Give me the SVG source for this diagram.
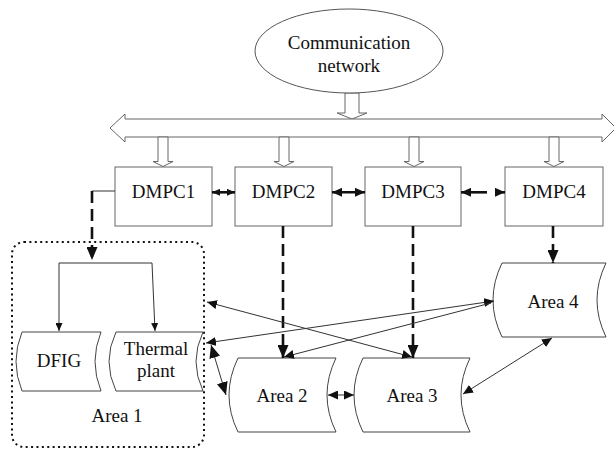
<svg xmlns="http://www.w3.org/2000/svg" width="614" height="449" viewBox="0 0 614 449">
  <style>
    text { font-family: "Liberation Serif", "Times New Roman", serif; font-size: 19px; fill: #111; text-anchor: middle; }
    .box { fill: #fff; stroke: #666; stroke-width: 1; }
    .shape { fill: #fff; stroke: #444; stroke-width: 1; }
    .hollow { fill: #fff; stroke: #666; stroke-width: 1; }
    .thin { fill: none; stroke: #333; stroke-width: 1; }
    .thick { fill: none; stroke: #111; stroke-width: 2.6; }
    .dash { fill: none; stroke: #111; stroke-width: 2.6; stroke-dasharray: 12 6; }
    .dots { fill: none; stroke: #111; stroke-width: 2; stroke-dasharray: 2 3.4; }
  </style>
  <defs>
    <marker id="head-s" markerUnits="userSpaceOnUse" markerWidth="8" markerHeight="7" refX="8" refY="3.5" orient="auto-start-reverse">
      <path d="M0,0 L8,3.5 L0,7 z" fill="#111"/>
    </marker>
    <marker id="head-m" markerUnits="userSpaceOnUse" markerWidth="10" markerHeight="9" refX="10" refY="4.5" orient="auto-start-reverse">
      <path d="M0,0 L10,4.5 L0,9 z" fill="#111"/>
    </marker>
    <marker id="head-l" markerUnits="userSpaceOnUse" markerWidth="13" markerHeight="11" refX="13" refY="5.5" orient="auto-start-reverse">
      <path d="M0,0 L13,5.5 L0,11 z" fill="#111"/>
    </marker>
  </defs>

  <!-- communication network -->
  <g id="network">
    <polygon class="hollow" points="345,93 359,93 359,113 367,113 352,119 337,113 345,113"/>
    <ellipse cx="349" cy="51" rx="94" ry="42" fill="#fff" stroke="#555" stroke-width="1"/>
    <text x="349" y="48.5" font-size="20.5">Communication</text>
    <text x="349" y="72" font-size="20.5">network</text>
  </g>

  <!-- shared bus -->
  <g id="bus">
    <polygon class="hollow" points="110,128 125,114 125,119 602,119 602,114 616,128 602,142 602,137 125,137 125,142"/>
    <polygon class="hollow" points="158,137 168,137 168,161.5 173,161.5 163,166.5 153,161.5 158,161.5"/>
    <polygon class="hollow" points="279,137 289,137 289,161.5 294,161.5 284,166.5 274,161.5 279,161.5"/>
    <polygon class="hollow" points="409,137 419,137 419,161.5 424,161.5 414,166.5 404,161.5 409,161.5"/>
    <polygon class="hollow" points="549,137 559,137 559,161.5 564,161.5 554,166.5 544,161.5 549,161.5"/>
  </g>

  <!-- controllers -->
  <g id="dmpc1">
    <rect class="box" x="115" y="167" width="97" height="59"/>
    <text x="163.5" y="198">DMPC1</text>
  </g>
  <g id="dmpc2">
    <rect class="box" x="235" y="167" width="97" height="59"/>
    <text x="283.5" y="198">DMPC2</text>
  </g>
  <g id="dmpc3">
    <rect class="box" x="365" y="167" width="96" height="59"/>
    <text x="413" y="198">DMPC3</text>
  </g>
  <g id="dmpc4">
    <rect class="box" x="505" y="167" width="98" height="59"/>
    <text x="554" y="198">DMPC4</text>
  </g>

  <!-- area 1 and its units -->
  <g id="area1">
    <rect class="dots" x="12" y="242" width="192" height="205" rx="12" ry="12"/>
    <text x="117" y="422">Area 1</text>
  </g>
  <g id="dfig">
    <path class="shape" d="M22,332 L101,332 Q89,361.5 101,391 L22,391 Q10,361.5 22,332 Z"/>
    <text x="59" y="367" font-size="20">DFIG</text>
  </g>
  <g id="thermal">
    <path class="shape" d="M116,332 L203,332 Q189,361.5 203,391 L116,391 Q102,361.5 116,332 Z"/>
    <text x="156" y="355">Thermal</text>
    <text x="156" y="377">plant</text>
  </g>

  <!-- other areas -->
  <g id="area2">
    <path class="shape" d="M238,358 L336,358 Q318,395 336,432 L238,432 Q220,395 238,358 Z"/>
    <text x="282" y="402">Area 2</text>
  </g>
  <g id="area3">
    <path class="shape" d="M363,358 L470,358 Q452,395 470,432 L363,432 Q345,395 363,358 Z"/>
    <text x="412" y="402">Area 3</text>
  </g>
  <g id="area4">
    <path class="shape" d="M502,263 L606,263 Q588,300 606,337 L502,337 Q484,300 502,263 Z"/>
    <text x="553" y="308">Area 4</text>
  </g>

  <!-- connectors -->
  <g id="connectors">
    <!-- controller to controller -->
    <line class="thick" x1="212" y1="192.3" x2="235" y2="192.3" marker-start="url(#head-s)" marker-end="url(#head-s)" stroke-width="1.5"/>
    <line class="thick" x1="332" y1="192.3" x2="365" y2="192.3" marker-start="url(#head-m)" marker-end="url(#head-m)"/>
    <line class="thick" x1="461" y1="192.3" x2="487" y2="192.3" marker-start="url(#head-m)"/>
    <line class="thick" x1="497" y1="192.3" x2="505" y2="192.3" marker-end="url(#head-m)" stroke-width="0.1"/>

    <!-- controller to area -->
    <polyline class="thin" points="115,191 92,191"/>
    <line class="dash" x1="92" y1="191" x2="92" y2="260" marker-end="url(#head-l)"/>
    <line class="dash" x1="283" y1="226" x2="283" y2="358" marker-end="url(#head-l)"/>
    <line class="dash" x1="413" y1="226" x2="413" y2="358" marker-end="url(#head-l)"/>
    <line class="dash" x1="553" y1="226" x2="553" y2="263" marker-end="url(#head-l)"/>

    <!-- distribution inside area 1 -->
    <polyline class="thin" points="59,331 59,263 152,263 155,331" marker-start="url(#head-s)" marker-end="url(#head-s)"/>

    <!-- tie lines between areas -->
    <line class="thin" x1="207" y1="302" x2="412" y2="357" marker-start="url(#head-m)" marker-end="url(#head-m)"/>
    <line class="thin" x1="206" y1="343" x2="494" y2="301" marker-start="url(#head-m)" marker-end="url(#head-m)"/>
    <line class="thin" x1="491" y1="303" x2="284" y2="357" marker-end="url(#head-m)"/>
    <line class="thin" x1="211" y1="345" x2="226" y2="395" marker-start="url(#head-l)" marker-end="url(#head-l)"/>
    <line class="thin" x1="328" y1="395" x2="354" y2="395" marker-start="url(#head-m)" marker-end="url(#head-m)"/>
    <line class="thin" x1="463" y1="394" x2="552" y2="338" marker-start="url(#head-m)" marker-end="url(#head-m)"/>
  </g>
</svg>
